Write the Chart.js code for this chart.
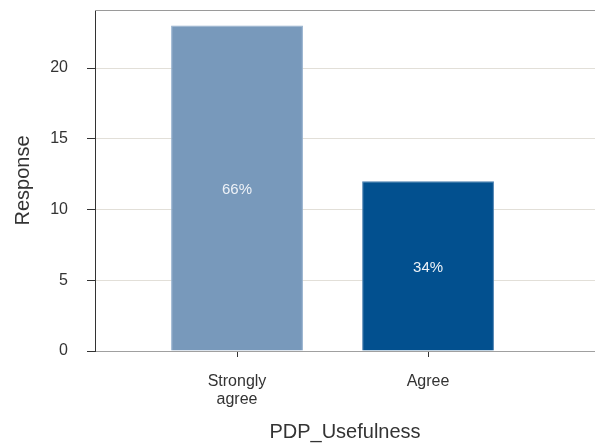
<!DOCTYPE html>
<html>
<head>
<meta charset="utf-8">
<script src="https://cdn.jsdelivr.net/npm/chart.js@4/dist/chart.umd.min.js"></script>
<style>
  html, body { margin: 0; padding: 0; background: #fff; }
  #wrap { width: 595px; height: 445px; }
</style>
</head>
<body>
<div id="wrap"><canvas id="c"></canvas></div>
<script>
// data
const categories = [["Strongly", "agree"], "Agree"];
const positions  = [1, 2];
const responses  = [23, 12];
const pctLabels  = ["66%", "34%"];
const yTicks     = [0, 5, 10, 15, 20];

const BAR_FILL   = ["#7899bb", "#02508f"];
const BAR_EDGE   = ["#8fadcb", "#4a7fb0"];
const FONT       = "'Liberation Sans', Arial, sans-serif";

// gray frame on top of the plot area
const frame = {
  id: "frame",
  afterDatasetsDraw(chart) {
    const { ctx, chartArea: a } = chart;
    ctx.save();
    ctx.strokeStyle = "#9a9a9a"; ctx.lineWidth = 1;
    ctx.beginPath();
    ctx.moveTo(a.left, a.top + 0.5); ctx.lineTo(a.right, a.top + 0.5);
    ctx.stroke();
    ctx.restore();
  },
};

// percentage labels in the middle of each bar
const pctText = {
  id: "pctText",
  afterDatasetsDraw(chart) {
    const { ctx } = chart;
    const meta = chart.getDatasetMeta(0);
    ctx.save();
    ctx.font = "15px " + FONT;
    ctx.fillStyle = "#eef2f7";
    ctx.textAlign = "center"; ctx.textBaseline = "middle";
    meta.data.forEach((bar, i) => {
      ctx.fillText(pctLabels[i], bar.x, (bar.y + bar.base) / 2 + 2);
    });
    ctx.restore();
  },
};

const noPad = s => { s.paddingTop = 0; s.paddingBottom = 0; s.paddingLeft = 0; s.paddingRight = 0; };

new Chart(document.getElementById("c"), {
  type: "bar",
  data: {
    datasets: [{
      data: positions.map((x, i) => ({ x, y: responses[i] })),
      backgroundColor: BAR_FILL,
      borderColor: BAR_EDGE,
      borderWidth: 1,
      borderSkipped: "bottom",
      categoryPercentage: 1,
      barPercentage: 0.69,
    }],
  },
  options: {
    responsive: true, maintainAspectRatio: false, animation: false,
    layout: { padding: { top: 10, right: 0, left: 0, bottom: 0 } },
    plugins: { legend: { display: false }, tooltip: { enabled: false } },
    scales: {
      x: {
        type: "linear", min: 0.2565, max: 2.874, offset: false,
        afterBuildTicks: s => { s.ticks = positions.map(v => ({ value: v })); },
        afterFit: s => { s.height = 94; noPad(s); },
        grid: { offset: false, drawOnChartArea: false, tickLength: 6, tickColor: "#333" },
        border: { color: "#a0a0a0", width: 1 },
        ticks: {
          autoSkip: false, maxRotation: 0, padding: 15,
          color: "#333", font: { size: 16, family: FONT, lineHeight: 1.15 },
          callback: v => categories[positions.indexOf(v)],
        },
        title: { display: true, text: "PDP_Usefulness", color: "#333", font: { size: 20, family: FONT }, padding: { bottom: 1 } },
      },
      y: {
        min: 0, max: 24.1,
        afterBuildTicks: s => { s.ticks = yTicks.map(v => ({ value: v })); },
        afterFit: s => { s.width = 95; noPad(s); },
        grid: { color: "#e2dfd8", tickLength: 8, tickColor: "#333" },
        border: { color: "#333", width: 1 },
        ticks: { padding: 19, color: "#333", font: { size: 16, family: FONT } },
        title: { display: true, text: "Response", color: "#333", font: { size: 20, family: FONT }, padding: { top: 11 } },
      },
    },
  },
  plugins: [frame, pctText],
});
</script>
</body>
</html>
